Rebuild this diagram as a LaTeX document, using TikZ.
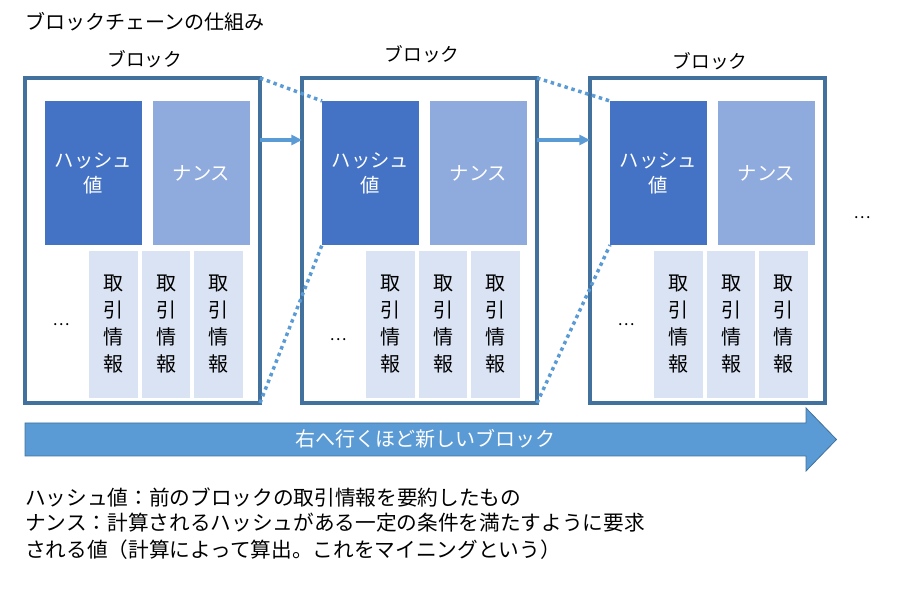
\documentclass[tikz,border=0pt]{standalone}
\usepackage{fontspec}
\setmainfont{Noto Sans CJK JP}
\usetikzlibrary{arrows.meta,calc}
\definecolor{bord}{HTML}{41719C}
\definecolor{hashc}{HTML}{4472C4}
\definecolor{noncec}{HTML}{8FAADC}
\definecolor{txc}{HTML}{DAE3F3}
\definecolor{lightb}{HTML}{5B9BD5}
\tikzset{
  blk/.style={draw=bord,line width=2.4pt,fill=white,inner sep=0pt,outer sep=0pt,
    minimum width=235*0.75pt,minimum height=325*0.75pt},
  hashbox/.style={fill=hashc,inner sep=0pt,outer sep=0pt,text=white,align=center,
    minimum width=97*0.75pt,minimum height=144*0.75pt,
    font=\fontsize{14.5pt}{18.75pt}\selectfont},
  noncebox/.style={fill=noncec,inner sep=0pt,outer sep=0pt,text=white,align=center,
    minimum width=97*0.75pt,minimum height=144*0.75pt,
    font=\fontsize{14.5pt}{18.75pt}\selectfont},
  txbox/.style={fill=txc,inner sep=0pt,outer sep=0pt,align=center,
    minimum width=48.5*0.75pt,minimum height=147*0.75pt,
    font=\fontsize{15pt}{20.25pt}\selectfont},
  lbl/.style={inner sep=0pt,font=\fontsize{14pt}{16pt}\selectfont},
  dots/.style={inner sep=0pt,font=\fontsize{12pt}{12pt}\selectfont},
  txt/.style={inner sep=0pt,anchor=west,align=left,font=\fontsize{15.5pt}{20.25pt}\selectfont},
  conn/.style={draw=lightb,line width=2.4pt,-{Triangle[length=8pt,width=7.5pt]}},
  dotline/.style={draw=lightb,line width=2.6pt,dash pattern=on 2.6pt off 2.8pt},
}
\begin{document}
\begin{tikzpicture}[x=0.75pt,y=-0.75pt]
\useasboundingbox (0,0) rectangle (901,595);
% title
\node[txt,font=\fontsize{15pt}{18pt}\selectfont] (title) at (25,22) {ブロックチェーンの仕組み};
% blocks
\foreach \i/\L/\ly/\dy in {1/25/59/325, 2/302/54/340, 3/590/61/325}{
  \node[blk] (o\i) at (\L+117.5,240.5) {};
  \node[lbl] (bl\i) at (\L+120,\ly) {ブロック};
  \node[hashbox] (h\i) at (\L+68.5,173) {ハッシュ\\値};
  \node[noncebox] (n\i) at (\L+176.5,173) {ナンス};
  \node[txbox] (ta\i) at (\L+88.5,324.5) {取\\引\\情\\報};
  \node[txbox] (tb\i) at (\L+141,324.5) {取\\引\\情\\報};
  \node[txbox] (tc\i) at (\L+193.5,324.5) {取\\引\\情\\報};
  \node[dots] (d\i) at (\L+36,\dy) {…};
}
\node[dots] (dend) at (862,218) {…};
% connectors between blocks
\draw[conn] ([yshift=-62*0.75pt]o1.north east) -- ([yshift=-62*0.75pt]o2.north west);
\draw[conn] ([yshift=-62*0.75pt]o2.north east) -- ([yshift=-62*0.75pt]o3.north west);
% dotted zoom lines
\draw[dotline] (o1.north east) -- (h2.north west);
\draw[dotline] (o1.south east) -- (h2.south west);
\draw[dotline] (o2.north east) -- (h3.north west);
\draw[dotline] (o2.south east) -- (h3.south west);
% big arrow
\fill[lightb,draw=bord,line width=0.6pt] (25,423) -- (806,423) -- (806,408) -- (836.5,439.5)
  -- (806,471) -- (806,456) -- (25,456) -- cycle;
\node[inner sep=0pt,text=white,font=\fontsize{15pt}{18pt}\selectfont] (arrtxt) at (425,439) {右へ行くほど新しいブロック};
% legend
\node[txt] (leg1) at (25,497) {ハッシュ値：前のブロックの取引情報を要約したもの};
\node[txt,anchor=north west] (leg2) at (25,513) {ナンス：計算されるハッシュがある一定の条件を満たすように要求\\される値（計算によって算出。これをマイニングという）};
\end{tikzpicture}
\end{document}
